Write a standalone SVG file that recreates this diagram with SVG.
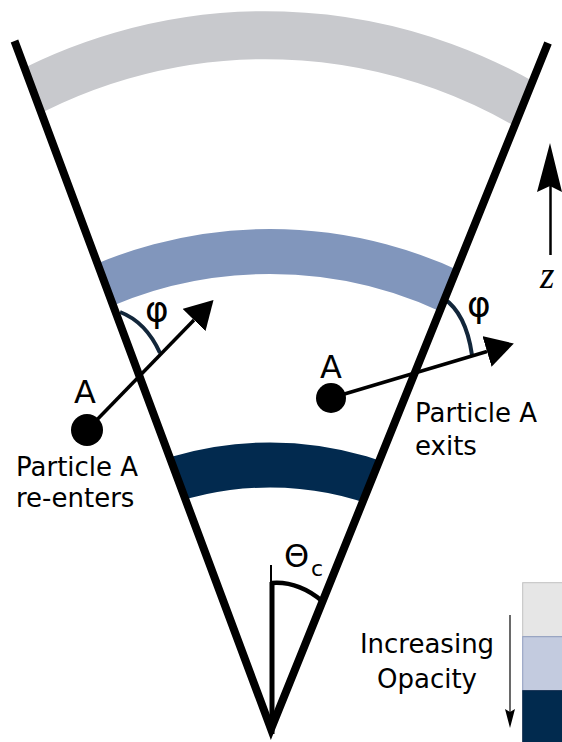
<svg xmlns="http://www.w3.org/2000/svg" width="562" height="742" viewBox="0 0 562 742">
<style>
  text { font-family: "DejaVu Sans", Verdana, sans-serif; fill: #000; }
  .lbl { font-size: 26px; }
  .big { font-size: 32px; }
  .phi { font-size: 36px; }
  .band { fill: none; }
  .cone { fill: none; stroke: #000; stroke-width: 8; stroke-linejoin: miter; stroke-miterlimit: 10; }
  .arrow { stroke: #000; stroke-width: 3.5; fill: none; }
  .anglearc { fill: none; stroke: #12263a; stroke-width: 4; }
</style>
<defs>
  <clipPath id="coneClip">
    <polygon points="-0.8,0 271,729 565.4,0"/>
  </clipPath>
  <marker id="head" markerUnits="userSpaceOnUse" markerWidth="30" markerHeight="32" refX="0" refY="16" orient="auto" viewBox="0 0 30 32">
    <path d="M0,0 L28,16 L0,32 Z" fill="#000"/>
  </marker>
</defs>

<g id="bands" clip-path="url(#coneClip)">
  <path id="band-top" class="band" d="M-20,121 A519,519 0 0,1 580,141" stroke="#c8c9cd" stroke-width="48"/>
  <path id="band-middle" class="band" d="M60,306.6 A427.5,427.5 0 0,1 480,306.6" stroke="#8196bc" stroke-width="45"/>
  <path id="band-bottom" class="band" d="M100,513.7 A321,321 0 0,1 440,513.7" stroke="#022a4f" stroke-width="45"/>
</g>

<g id="angle-arcs">
  <path d="M120,312 Q146,322 160,353" class="anglearc"/>
  <path d="M443,298 Q466,313 472,355" class="anglearc"/>
</g>

<g id="cone">
  <polyline class="cone" points="14.5,41 271,729 548,43"/>
  <line x1="271" y1="565" x2="271" y2="584" stroke="#000" stroke-width="2"/>
  <line x1="272" y1="582" x2="272" y2="734" stroke="#000" stroke-width="5"/>
  <path d="M272,583 Q298,581 322,601" fill="none" stroke="#000" stroke-width="4.5"/>
  <text class="big" x="284" y="567">Θ</text>
  <text x="311" y="576" style="font-size:22px">c</text>
</g>

<g id="connectors">
  <line class="arrow" x1="87" y1="430" x2="194" y2="320" marker-end="url(#head)"/>
  <line class="arrow" x1="331" y1="398" x2="487" y2="351.5" marker-end="url(#head)"/>
</g>

<g id="particle-left">
  <circle cx="87" cy="430" r="16" fill="#000"/>
  <text class="big" x="85" y="403" text-anchor="middle">A</text>
  <text class="lbl" x="16" y="476">Particle A</text>
  <text class="lbl" x="16" y="507">re-enters</text>
  <text class="phi" x="145" y="322">φ</text>
</g>

<g id="particle-right">
  <circle cx="331" cy="398" r="15" fill="#000"/>
  <text class="big" x="331" y="378" text-anchor="middle">A</text>
  <text class="lbl" x="415" y="422">Particle A</text>
  <text class="lbl" x="415" y="455">exits</text>
  <text class="phi" x="467" y="317">φ</text>
</g>

<g id="z-axis">
  <line x1="550.5" y1="255" x2="550.5" y2="185" stroke="#000" stroke-width="2.5"/>
  <polygon points="550,143 562,192 550,186 537,192" fill="#000"/>
  <text x="540" y="288" style="font-family:'Liberation Serif','Times New Roman',serif;font-style:italic;font-size:37px">z</text>
</g>

<g id="legend">
  <rect x="522.7" y="582.7" width="45" height="54" fill="#e6e6e6" stroke="#c0c0c0" stroke-width="1"/>
  <rect x="522.7" y="636.7" width="45" height="54" fill="#c3cbdf" stroke="#8e9cbf" stroke-width="1"/>
  <rect x="522.7" y="690.7" width="45" height="60" fill="#012a4e" stroke="#0d2a4a" stroke-width="1"/>
  <line x1="510" y1="615" x2="510" y2="714" stroke="#444" stroke-width="1.6"/>
  <polygon points="505,709 510,712 515,709 510,728" fill="#000"/>
  <text class="lbl" x="427" y="653" text-anchor="middle">Increasing</text>
  <text class="lbl" x="427" y="688" text-anchor="middle">Opacity</text>
</g>
</svg>
